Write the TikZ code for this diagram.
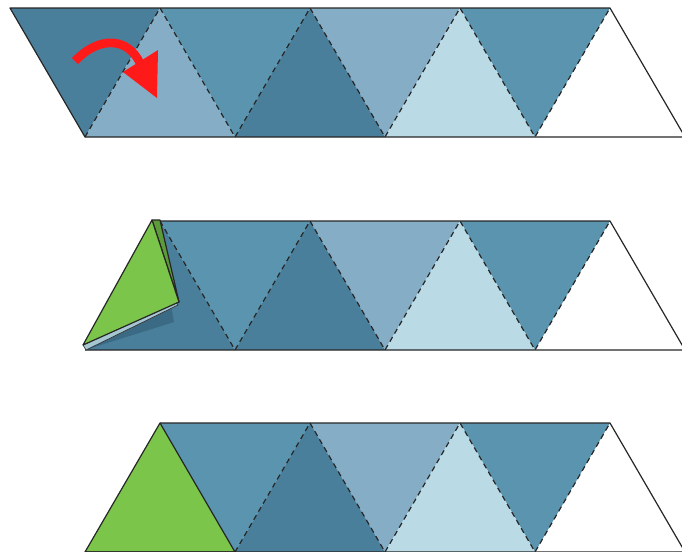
\documentclass[tikz,border=0pt]{standalone}
\usepackage{tikz}

\definecolor{bluedark}{HTML}{4A7F9C}
\definecolor{bluemid}{HTML}{5B94AE}
\definecolor{bluelight}{HTML}{86ADC6}
\definecolor{bluepale}{HTML}{BADBE6}
\definecolor{leafgreen}{HTML}{7BC54A}
\definecolor{leafdark}{HTML}{5D9A3A}
\definecolor{shadowblue}{HTML}{3B6A85}
\definecolor{edgeblue}{HTML}{A6C6D2}
\definecolor{arrowred}{HTML}{FF1A1A}

\tikzset{
  outline/.style={draw=black!85, line width=0.9pt, line join=round},
  fold/.style={draw=black!85, line width=0.9pt, dash pattern=on 4pt off 3pt},
  downtri/.style={fill=#1},
  uptri/.style={fill=#1}
}

% triangles: #1 = colour, #2 = left x, #3 = top y
\newcommand{\downtri}[3]{\fill[#1] (#2,#3) -- ++(150,0) -- ++(-75,129) -- cycle;}
\newcommand{\uptri}[3]{\fill[#1] (#2,#3+129) -- ++(150,0) -- ++(-75,-129) -- cycle;}

\begin{document}
\begin{tikzpicture}[x=0.75pt, y=-0.75pt]
	\useasboundingbox (0,0) rectangle (682,551);
	\clip (0,0) rectangle (682,551);

	% row 1: the flat strip
	\downtri{bluedark}{10}{8}
	\downtri{bluemid}{160}{8}
	\downtri{bluelight}{310}{8}
	\downtri{bluemid}{460}{8}
	\uptri{bluelight}{85}{8}
	\uptri{bluedark}{235}{8}
	\uptri{bluepale}{385}{8}
	\draw[fold] (85,137) -- (160,8) -- (235,137) -- (310,8) -- (385,137) -- (460,8) -- (535,137) -- (610,8);
	\draw[outline] (10,8) -- (610,8) -- (685,137) -- (85,137) -- cycle;

	% the turn
	\draw[arrowred, line width=6.5pt] (75,61) .. controls (100,35) and (128,38) .. (140,63);
	\fill[arrowred] (123,72) -- (158,50) -- (157,98) -- cycle;

	% row 2: first triangle lifting
	\downtri{bluemid}{160}{221}
	\downtri{bluelight}{310}{221}
	\downtri{bluemid}{460}{221}
	\uptri{bluedark}{85}{221}
	\uptri{bluedark}{235}{221}
	\uptri{bluepale}{385}{221}
	\draw[fold] (160,221) -- (235,350) -- (310,221) -- (385,350) -- (460,221) -- (535,350) -- (610,221);
	\draw[outline] (160,221) -- (610,221) -- (685,350) -- (85,350);
	\fill[shadowblue] (85,350) -- (174,322) -- (171,305) -- cycle;
	\filldraw[fill=edgeblue, draw=black!80, line width=0.5pt] (83,345) -- (86,350) -- (178,305) -- (176,302) -- cycle;
	\filldraw[fill=leafdark, outline] (152,220) -- (160,220) -- (179,302) -- cycle;
	\filldraw[fill=leafgreen, outline] (83,345) -- (152,220) -- (179,302) -- cycle;

	% row 3: folded over
	\downtri{bluemid}{160}{423}
	\downtri{bluelight}{310}{423}
	\downtri{bluemid}{460}{423}
	\uptri{bluedark}{235}{423}
	\uptri{bluepale}{385}{423}
	\draw[fold] (235,552) -- (310,423) -- (385,552) -- (460,423) -- (535,552) -- (610,423);
	\filldraw[fill=leafgreen, outline] (85,552) -- (160,423) -- (235,552) -- cycle;
	\draw[outline] (160,423) -- (610,423) -- (685,552) -- (85,552);
\end{tikzpicture}
\end{document}
